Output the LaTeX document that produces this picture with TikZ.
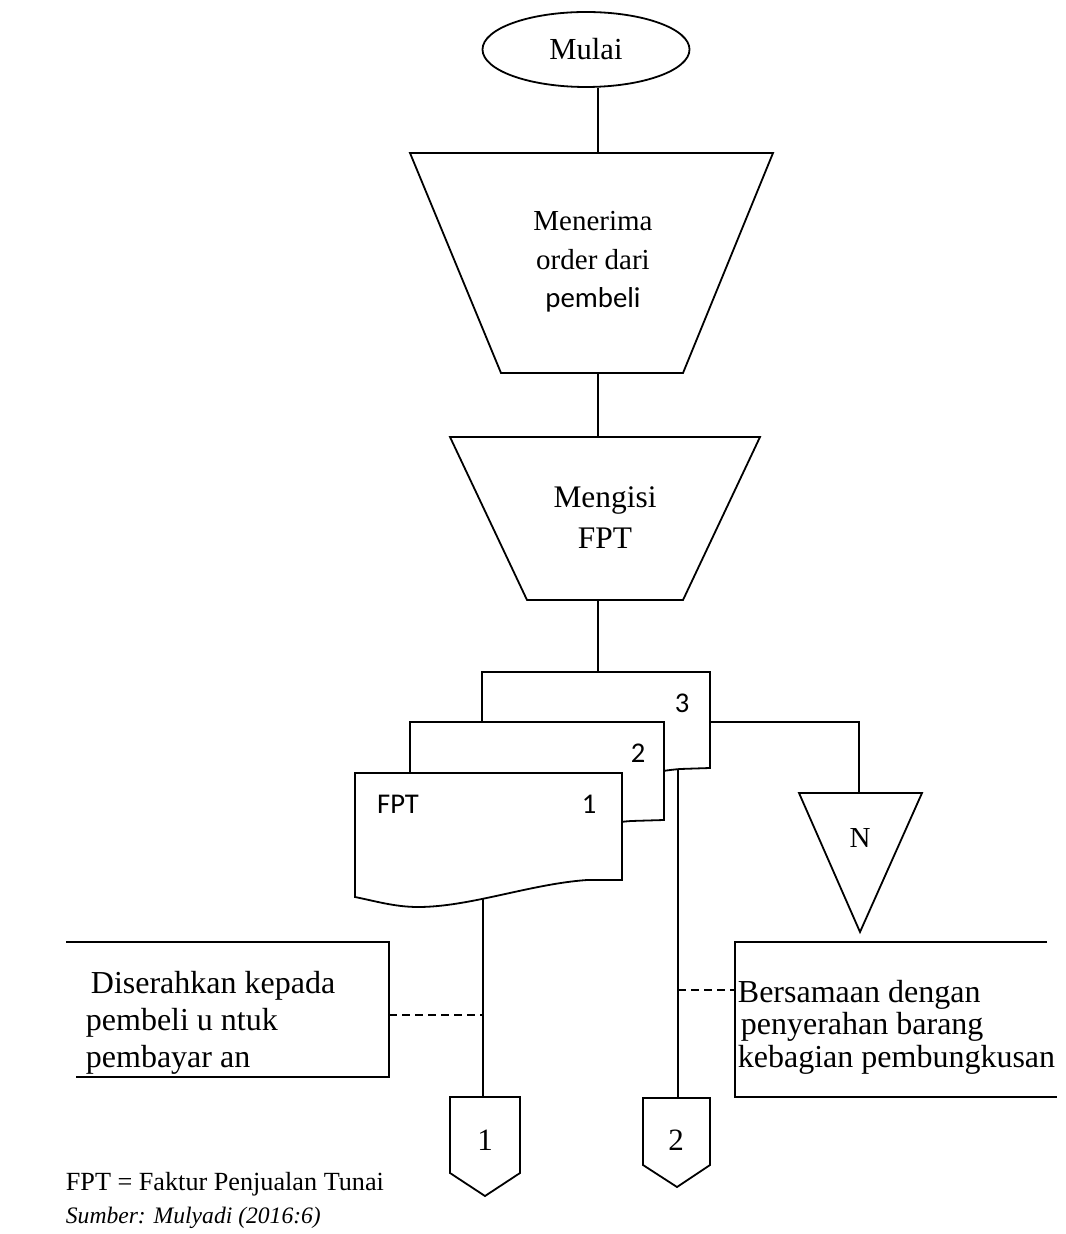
\documentclass[tikz,border=0pt]{standalone}
\usepackage{fontspec}
\setmainfont{Liberation Serif}
\newfontfamily\calibri{Carlito}
\usepackage{tikz}
\usetikzlibrary{shapes.geometric}

\begin{document}
\begin{tikzpicture}[x=0.5pt,y=-0.5pt,line width=0.9pt,line join=miter]
  \tikzstyle{every node}=[inner sep=0pt]
  \tikzstyle{shp}=[draw,fill=white]
  \tikzstyle{note}=[anchor=base west,align=left]
  \tikzstyle{lbl}=[font=\calibri\fontsize{14.3}{17}\selectfont]
  \tikzstyle{dashline}=[dash pattern=on 4pt off 2.5pt]

  \useasboundingbox (0,0) rectangle (1065,1234);

  \coordinate (t1)  at (598,153);
  \coordinate (b1)  at (598,373);
  \coordinate (t2)  at (598,437);
  \coordinate (b2)  at (598,600);
  \coordinate (d3t) at (598,672);
  \coordinate (d3r) at (710,722);
  \coordinate (d3b) at (678,765);
  \coordinate (d1b) at (483,895);
  \coordinate (ntop) at (859,793);
  \coordinate (c1)  at (483,1097);
  \coordinate (c2)  at (678,1098);
  \coordinate (n1)  at (389,1015);
  \coordinate (n2)  at (735,990);

  \node[ellipse,draw,minimum width=103.5pt,minimum height=37.5pt,
        font=\fontsize{15.3}{18}\selectfont] (mulai) at (586,49.5) {Mulai};

  \draw (mulai.south -| t1) -- (t1);
  \draw (b1) -- (t2);
  \draw (b2) -- (d3t);
  \draw (d3r) -| (ntop);
  \draw (d1b) -- (c1);
  \draw (d3b) -- (c2);
  \draw[dashline] (n1) -- (n1 -| c1);
  \draw[dashline] (n2 -| c2) -- (n2);

  % manual operations
  \draw[shp] (410,153) -- (773,153) -- (683,373) -- (501,373) -- cycle;
  \node[align=center,anchor=base,font=\fontsize{14.5}{19.25}\selectfont] (terima) at (593,308)
    {Menerima\\order dari\\{\calibri\fontsize{14.4}{19.25}\selectfont pembeli}};
  \draw[shp] (450,437) -- (760,437) -- (683,600) -- (527,600) -- cycle;
  \node[align=center,anchor=base,font=\fontsize{15.7}{20.5}\selectfont] (isi) at (605,548)
    {Mengisi\\FPT};

  % documents
  \draw[shp] (482,672) -- (710,672) -- (710,768) -- (680,769)
    .. controls (632,773) and (580,792) .. (536,792)
    .. controls (516,792) and (499,787) .. (482,784) -- cycle;
  \draw[shp] (410,722) -- (664,722) -- (664,820) -- (631,821)
    .. controls (577,825) and (520,845) .. (470,845)
    .. controls (448,845) and (429,839) .. (410,836) -- cycle;
  \draw[shp] (355,773) -- (622,773) -- (622,880) -- (587,880)
    .. controls (530,884) and (470,907) .. (418,907)
    .. controls (395,907) and (375,901) .. (355,897) -- cycle;
  \node[lbl] (lbl3) at (682,703) {3};
  \node[lbl] (lbl2) at (638,753) {2};
  \node[lbl] (lbl1) at (589,804) {1};
  \node[lbl] (fpt) at (398,804) {FPT};

  % file
  \draw[shp] (799,793) -- (922,793) -- (860,932) -- cycle;
  \node[font=\fontsize{14.5}{17}\selectfont] (arsip) at (860,838) {N};

  % off-page connectors
  \draw[shp] (450,1097) -- (520,1097) -- (520,1173) -- (485,1196) -- (450,1173) -- cycle;
  \node[font=\fontsize{15.5}{18}\selectfont] (hal1) at (485,1140) {1};
  \draw[shp] (643,1098) -- (710,1098) -- (710,1165) -- (677,1187) -- (643,1165) -- cycle;
  \node[font=\fontsize{15.5}{18}\selectfont] (hal2) at (676,1140) {2};

  % annotations
  \draw (66,942) -- (389,942) -- (389,1077) -- (76,1077);
  \node[note,font=\fontsize{16}{18.5}\selectfont] (ket1) at (85,1067)
    {\hspace{2.5pt}Diserahkan kepada\\pembeli u ntuk\\pembayar an};
  \draw (1047,942) -- (735,942) -- (735,1097) -- (1057,1097);
  \node[note,font=\fontsize{16}{16.25}\selectfont] (ket2) at (737,1067)
    {Bersamaan dengan\\\hspace{1.5pt}penyerahan barang\\kebagian pembungkusan};

  \node[note,font=\fontsize{13.1}{16}\selectfont] (singkatan) at (65,1190)
    {FPT = Faktur Penjualan Tunai};
  \node[note,font=\fontsize{11.8}{14}\selectfont\itshape] (sumber) at (65,1223)
    {Sumber: Mulyadi (2016:6)};
\end{tikzpicture}
\end{document}
